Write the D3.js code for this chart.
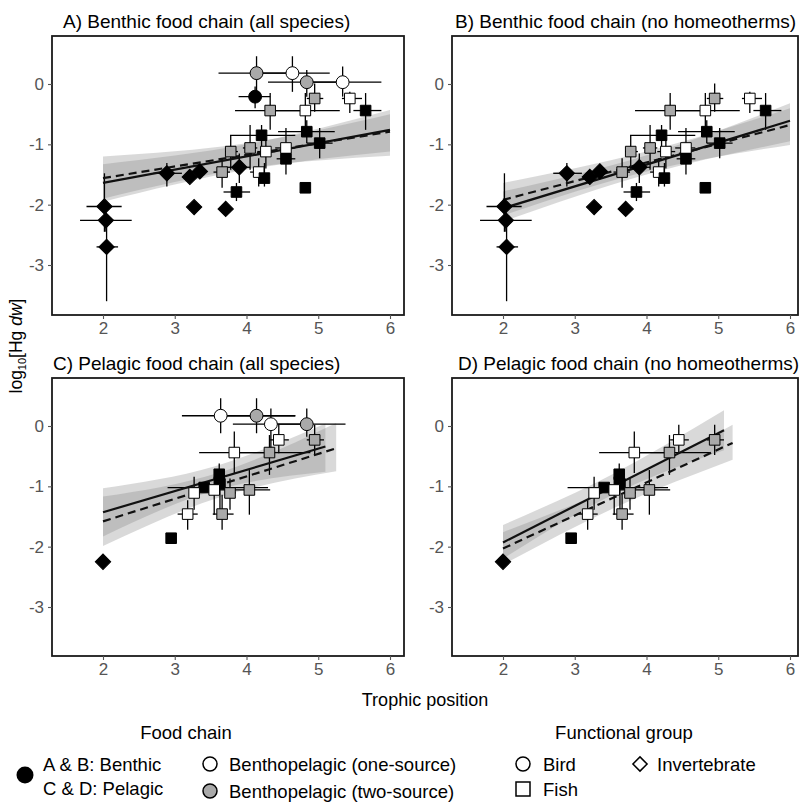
<!DOCTYPE html>
<html><head><meta charset="utf-8">
<script src="https://cdn.jsdelivr.net/npm/d3@7"></script>
<style>body{margin:0;background:#fff}text{font-family:"Liberation Sans",Arial,sans-serif}</style>
</head><body><svg id="c" width="801" height="802"></svg>
<script>
// ---------- DATA ----------
// Benthic food chain (panels A, B)
const benTP   = [4.14,4.64,4.84,5.34,4.12,4.95,5.44,4.33,4.82,5.66,4.21,4.84,5.02,3.78,4.05,4.27,4.55,4.55,4.17,4.25,3.66,3.86,4.82,3.90,2.89,3.21,3.35,3.27,3.71,2.02,2.04,2.05];
const benHg   = [0.18,0.18,0.03,0.03,-0.21,-0.24,-0.24,-0.44,-0.44,-0.44,-0.85,-0.79,-0.98,-1.12,-1.06,-1.12,-1.06,-1.24,-1.46,-1.56,-1.46,-1.79,-1.72,-1.38,-1.48,-1.54,-1.45,-2.04,-2.07,-2.03,-2.26,-2.70];
const benTPlo = [3.61,4.12,4.30,4.80,3.89,4.84,5.33,3.84,4.33,5.49,3.77,4.44,4.84,3.70,3.95,4.15,4.40,4.42,4.05,4.18,3.54,3.68,null,3.72,2.70,3.15,3.28,null,null,1.77,1.68,1.91];
const benTPhi = [4.67,5.16,5.38,5.88,4.33,5.07,5.61,4.82,5.30,5.88,4.68,5.23,5.20,3.88,4.15,4.40,4.68,4.68,4.25,4.32,3.77,4.05,null,4.05,3.10,3.28,3.42,null,null,2.26,2.40,2.21];
const benHglo = [-0.18,-0.13,-0.21,-0.21,-0.40,-0.46,-0.48,-0.76,-0.71,-0.76,-1.20,-0.98,-1.23,-1.42,-1.42,-1.40,-1.28,-1.50,-1.70,-1.70,-1.72,-1.94,null,-1.64,-1.70,-1.62,-1.52,null,null,-2.45,-2.45,-3.60];
const benHghi = [0.46,0.46,0.23,0.29,-0.04,0.01,-0.13,-0.15,-0.15,-0.15,-0.68,-0.60,-0.73,-0.85,-0.68,-0.90,-0.73,-1.01,-1.23,-1.31,-1.23,-1.64,null,-1.15,-1.31,-1.46,-1.38,null,null,-1.48,-2.05,-2.28];
const benGroup = ["Bird","Bird","Bird","Bird","Bird","Fish","Fish","Fish","Fish","Fish","Fish","Fish","Fish","Fish","Fish","Fish","Fish","Fish","Fish","Fish","Fish","Fish","Fish","Invertebrate","Invertebrate","Invertebrate","Invertebrate","Invertebrate","Invertebrate","Invertebrate","Invertebrate","Invertebrate"];
const benSource = ["two","one","two","one","chain","two","one","two","one","chain","chain","chain","chain","two","two","one","one","chain","one","chain","two","chain","chain","chain","chain","chain","chain","chain","chain","chain","chain","chain"];

// Pelagic food chain (panels C, D)
const pelTP   = [3.64,4.14,4.34,4.84,4.45,4.95,3.83,4.32,3.62,3.63,3.41,3.27,3.55,3.77,4.04,3.18,3.66,2.95,2.00];
const pelHg   = [0.17,0.17,0.03,0.03,-0.23,-0.23,-0.44,-0.44,-0.80,-0.96,-1.02,-1.11,-1.06,-1.11,-1.06,-1.46,-1.46,-1.86,-2.25];
const pelTPlo = [3.10,3.65,3.81,4.30,4.33,4.84,3.34,3.82,3.55,3.56,2.90,3.20,3.48,3.70,3.63,3.04,3.53,null,null];
const pelTPhi = [4.68,4.68,4.87,5.38,4.59,5.08,4.33,4.89,3.70,3.70,4.30,3.35,3.62,3.85,4.33,3.32,3.82,null,null];
const pelHglo = [-0.12,-0.12,-0.45,-0.18,-0.45,-0.48,-0.78,-0.81,-1.10,-1.45,-1.08,-1.39,-1.47,-1.39,-1.47,-1.72,-1.72,null,null];
const pelHghi = [0.46,0.46,0.29,0.29,0.02,0.02,-0.09,-0.15,-0.62,-0.80,-0.96,-0.84,-0.84,-0.87,-0.73,-1.23,-1.14,null,null];
const pelGroup = ["Bird","Bird","Bird","Bird","Fish","Fish","Fish","Fish","Fish","Fish","Fish","Fish","Fish","Fish","Fish","Fish","Fish","Fish","Invertebrate"];
const pelSource = ["one","two","one","two","one","two","one","two","chain","chain","chain","one","one","two","two","one","two","chain","chain"];

// Fits per panel A, B, C, D
const panelTitles = ["A) Benthic food chain (all species)","B) Benthic food chain (no homeotherms)","C) Pelagic food chain (all species)","D) Pelagic food chain (no homeotherms)"];
const fitX0   = [2, 2, 2, 2];
const solidX1 = [6, 6, 5.1, 5.08];
const solidY0 = [-1.64, -2.06, -1.43, -1.93];
const solidY1 = [-0.76, -0.61, -0.34, -0.07];
const dashX1  = [6, 6, 5.25, 5.2];
const dashY0  = [-1.56, -1.92, -1.58, -2.03];
const dashY1  = [-0.79, -0.68, -0.37, -0.28];
const solidBandLo = [[-1.95,-1.42,-1.12],[-2.28,-1.50,-0.95],[-1.83,-1.07,-0.76],[-2.20,-1.13,-0.40]];
const solidBandHi = [[-1.33,-1.00,-0.43],[-1.78,-1.18,-0.32],[-1.03,-0.67,0.04],[-1.64,-0.79,0.26]];
const dashBandLo  = [[-1.90,-1.40,-1.19],[-2.18,-1.45,-1.01],[-1.99,-1.18,-0.75],[-2.30,-1.33,-0.56]];
const dashBandHi  = [[-1.20,-0.98,-0.50],[-1.64,-1.12,-0.40],[-1.17,-0.77,0.05],[-1.76,-0.98,0.02]];

const xTicks = [2,3,4,5,6];
const xTickLabels = ["2","3","4","5","6"];
const yTicks = [0,-1,-2,-3];
const yTickLabels = ["0","-1","-2","-3"];

// ---------- DRAW ----------
const svg = d3.select("#c");
svg.append("rect").attr("width",801).attr("height",802).attr("fill","#fff");

function rows(tp,hg,tlo,thi,hlo,hhi,grp,src){
  return tp.map((x,i)=>({x, y:hg[i], xlo:tlo[i], xhi:thi[i], ylo:hlo[i], yhi:hhi[i], group:grp[i], source:src[i]}));
}
const benthic = rows(benTP,benHg,benTPlo,benTPhi,benHglo,benHghi,benGroup,benSource);
const pelagic = rows(pelTP,pelHg,pelTPlo,pelTPhi,pelHglo,pelHghi,pelGroup,pelSource);

const layout = [
  {x0:52, y0:36, w:352, h:279, tx:63, ty:28, data:benthic},
  {x0:452,y0:36, w:346, h:279, tx:455,ty:28, data:benthic.filter(d=>d.group!=="Bird")},
  {x0:52, y0:378,w:352, h:278, tx:53, ty:370, data:pelagic},
  {x0:452,y0:378,w:346, h:278, tx:458,ty:370, data:pelagic.filter(d=>d.group!=="Bird")}
];
const fillOf = s => s==="chain" ? "#000" : (s==="one" ? "#fff" : "#a9a9a9");
const symOf = g => g==="Bird" ? d3.symbolCircle : d3.symbolSquare;
const sizeOf = g => g==="Bird" ? 130 : (g==="Fish" ? 112 : 118);

layout.forEach((L,p)=>{
  const x = d3.scaleLinear().domain([2,6]).range([L.x0+51, L.x0+338]);
  const y = d3.scaleLinear().domain([0,-3]).range([L.y0+48, L.y0+229]);
  const g = svg.append("g");
  const clipId = "clip"+p;
  g.append("clipPath").attr("id",clipId).append("rect").attr("x",L.x0).attr("y",L.y0).attr("width",L.w).attr("height",L.h);
  const inner = g.append("g").attr("clip-path",`url(#${clipId})`);

  // bands
  const mkBand = (x0,x1,lo,hi) => {
    const xs=[x0,(x0+x1)/2,x1];
    return xs.map((v,i)=>({x:v, lo:lo[i], hi:hi[i]}));
  };
  const area = d3.area().x(d=>x(d.x)).y0(d=>y(d.lo)).y1(d=>y(d.hi)).curve(d3.curveNatural);
  inner.append("path").datum(mkBand(fitX0[p],solidX1[p],solidBandLo[p],solidBandHi[p]))
    .attr("d",area).attr("fill","#808080").attr("fill-opacity",0.3);
  inner.append("path").datum(mkBand(fitX0[p],dashX1[p],dashBandLo[p],dashBandHi[p]))
    .attr("d",area).attr("fill","#808080").attr("fill-opacity",0.3);

  // error bars
  const eb = inner.append("g").attr("stroke","#000").attr("stroke-width",1.3);
  L.data.filter(d=>d.xlo!=null).forEach(d=>{
    eb.append("line").attr("x1",x(d.xlo)).attr("x2",x(d.xhi)).attr("y1",y(d.y)).attr("y2",y(d.y));
  });
  L.data.filter(d=>d.ylo!=null).forEach(d=>{
    eb.append("line").attr("x1",x(d.x)).attr("x2",x(d.x)).attr("y1",y(d.ylo)).attr("y2",y(d.yhi));
  });

  // fit lines
  const line = d3.line().x(d=>x(d[0])).y(d=>y(d[1]));
  inner.append("path").datum([[fitX0[p],solidY0[p]],[solidX1[p],solidY1[p]]]).attr("d",line)
    .attr("stroke","#111").attr("stroke-width",2.2).attr("fill","none");
  inner.append("path").datum([[fitX0[p],dashY0[p]],[dashX1[p],dashY1[p]]]).attr("d",line)
    .attr("stroke","#111").attr("stroke-width",2.2).attr("fill","none").attr("stroke-dasharray","8,5");

  // points
  inner.append("g").selectAll("path").data(L.data).join("path")
    .attr("d",d=>d3.symbol(symOf(d.group), sizeOf(d.group))())
    .attr("transform",d=>`translate(${x(d.x)},${y(d.y)})`+(d.group==="Invertebrate"?" rotate(45)":""))
    .attr("fill",d=>fillOf(d.source)).attr("stroke","#000").attr("stroke-width",1);

  // frame
  g.append("rect").attr("x",L.x0).attr("y",L.y0).attr("width",L.w).attr("height",L.h)
    .attr("fill","none").attr("stroke","#1a1a1a").attr("stroke-width",1.8);

  // axes
  const xa = g.append("g").attr("transform",`translate(0,${L.y0+L.h})`)
    .call(d3.axisBottom(x).tickValues(xTicks).tickFormat((d,i)=>xTickLabels[i]).tickSize(4).tickPadding(3));
  const ya = g.append("g").attr("transform",`translate(${L.x0},0)`)
    .call(d3.axisLeft(y).tickValues(yTicks).tickFormat((d,i)=>yTickLabels[i]).tickSize(4).tickPadding(4));
  [xa,ya].forEach(a=>{
    a.select(".domain").remove();
    a.selectAll("line").attr("stroke","#555").attr("stroke-width",1.1);
    a.selectAll("text").attr("fill","#555").attr("font-size",17).attr("font-family",'"Liberation Sans",Arial,sans-serif');
  });

  // title
  g.append("text").attr("x",L.tx).attr("y",L.ty).attr("font-size",19).attr("fill","#000").text(panelTitles[p]);
});

// axis titles
const yl = svg.append("text").attr("transform","translate(22,346) rotate(-90)").attr("text-anchor","middle").attr("font-size",17.5);
yl.append("tspan").text("log");
yl.append("tspan").attr("font-size",11).attr("dy",4).text("10");
yl.append("tspan").attr("dy",-4).text("[Hg ");
yl.append("tspan").attr("font-style","italic").text("dw");
yl.append("tspan").text("]");
svg.append("text").attr("x",425).attr("y",706).attr("text-anchor","middle").attr("font-size",18).text("Trophic position");

// legend
const legendSourceLabels = ["Benthopelagic (one-source)","Benthopelagic (two-source)"];
const legendGroupLabels = ["Bird","Fish","Invertebrate"];
const lg = svg.append("g").attr("font-size",18.5);
lg.append("text").attr("x",186).attr("y",739).attr("text-anchor","middle").text("Food chain");
lg.append("text").attr("x",624).attr("y",739).attr("text-anchor","middle").text("Functional group");
lg.append("circle").attr("cx",25).attr("cy",775).attr("r",8.5).attr("fill","#000");
lg.append("text").attr("x",43).attr("y",771).text("A & B: Benthic");
lg.append("text").attr("x",43).attr("y",795).text("C & D: Pelagic");
lg.append("circle").attr("cx",210).attr("cy",764).attr("r",7).attr("fill","#fff").attr("stroke","#000").attr("stroke-width",1.5);
lg.append("text").attr("x",229).attr("y",771).text(legendSourceLabels[0]);
lg.append("circle").attr("cx",210).attr("cy",791).attr("r",7).attr("fill","#a9a9a9").attr("stroke","#000").attr("stroke-width",1.5);
lg.append("text").attr("x",229).attr("y",798).text(legendSourceLabels[1]);
lg.append("circle").attr("cx",523).attr("cy",764).attr("r",7).attr("fill","#fff").attr("stroke","#000").attr("stroke-width",1.5);
lg.append("text").attr("x",543).attr("y",771).text(legendGroupLabels[0]);
lg.append("rect").attr("x",516).attr("y",782).attr("width",14).attr("height",14).attr("fill","#fff").attr("stroke","#000").attr("stroke-width",1.5);
lg.append("text").attr("x",543).attr("y",796).text(legendGroupLabels[1]);
lg.append("path").attr("d",d3.symbol(d3.symbolSquare,100)()).attr("transform","translate(640,764) rotate(45)").attr("fill","#fff").attr("stroke","#000").attr("stroke-width",1.5);
lg.append("text").attr("x",657).attr("y",771).text(legendGroupLabels[2]);
</script>
</body></html>
